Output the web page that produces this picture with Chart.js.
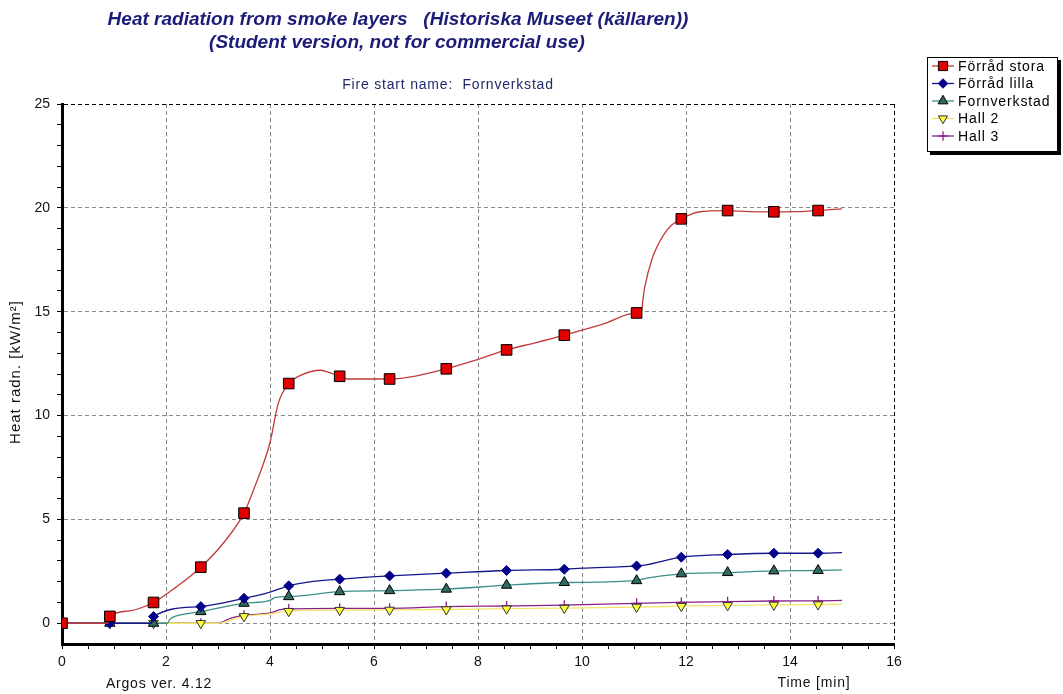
<!DOCTYPE html>
<html>
<head>
<meta charset="utf-8">
<script src="https://cdn.jsdelivr.net/npm/chart.js@4/dist/chart.umd.min.js"></script>
<style>
html,body{margin:0;padding:0;background:#fff;overflow:hidden}
#wrap{width:1063px;height:694px;position:relative}
</style>
</head>
<body>
<div id="wrap"><canvas id="c" width="1063" height="694"></canvas></div>
<script>
// ---------- data ----------
const seriesNames = ['Förråd stora', 'Förråd lilla', 'Fornverkstad', 'Hall 2', 'Hall 3'];

const xMajorTicks = [0, 2, 4, 6, 8, 10, 12, 14, 16];
const yMajorTicks = [0, 5, 10, 15, 20, 25];

// time of the plotted markers (min)
const markerTimes = [0, 0.92, 1.76, 2.67, 3.5, 4.36, 5.34, 6.3, 7.39, 8.55, 9.66, 11.05, 11.91, 12.8, 13.69, 14.54];

const storaMarkers = [0, 0.33, 1.0, 2.7, 5.3, 11.54, 11.89, 11.76, 12.25, 13.16, 13.87, 14.94, 19.47, 19.87, 19.81, 19.87];
const lillaMarkers = [0, 0, 0.32, 0.8, 1.2, 1.8, 2.12, 2.28, 2.41, 2.54, 2.6, 2.76, 3.18, 3.31, 3.37, 3.37];
const fornMarkers  = [0, 0, 0, 0.56, 0.96, 1.28, 1.52, 1.57, 1.64, 1.83, 1.96, 2.05, 2.38, 2.44, 2.52, 2.54];
const hall2Markers = [0, 0, 0, 0, 0.33, 0.58, 0.63, 0.64, 0.66, 0.7, 0.73, 0.78, 0.82, 0.86, 0.88, 0.9];
const hall3Markers = [0, 0, 0, 0, 0.38, 0.69, 0.72, 0.72, 0.8, 0.83, 0.87, 0.96, 1.0, 1.04, 1.07, 1.08];

// curve samples (time, value)
const storaCurveX = [0, 0.88, 0.92, 1.3, 1.76, 2.2, 2.67, 3.1, 3.5, 3.68, 4.0, 4.16, 4.36, 4.6, 4.97, 5.1, 5.34, 5.5, 6.3, 6.8, 7.39, 8.0, 8.55, 9.1, 9.66, 10.4, 11.05, 11.12, 11.2, 11.35, 11.57, 11.72, 11.91, 12.24, 12.8, 13.2, 13.69, 14.1, 14.54, 15.0];
const storaCurveY = [0, 0, 0.33, 0.6, 1.0, 1.75, 2.7, 3.85, 5.3, 6.4, 8.7, 10.6, 11.54, 11.95, 12.18, 12.1, 11.89, 11.76, 11.76, 11.9, 12.25, 12.7, 13.16, 13.5, 13.87, 14.4, 14.94, 14.75, 16.1, 17.56, 18.7, 19.16, 19.47, 19.8, 19.87, 19.82, 19.81, 19.82, 19.87, 19.95];

const lillaCurveX = [0, 1.72, 1.76, 2.65, 3.5, 4.0, 4.36, 4.8, 5.34, 6.3, 7.39, 8.55, 9.66, 10.0, 11.05, 11.2, 11.91, 12.8, 13.69, 14.54, 15.0];
const lillaCurveY = [0, 0, 0.32, 0.8, 1.2, 1.5, 1.8, 2.0, 2.12, 2.28, 2.41, 2.54, 2.6, 2.65, 2.76, 2.8, 3.18, 3.31, 3.37, 3.37, 3.4];

const fornCurveX = [0, 2.02, 2.08, 2.2, 2.67, 3.5, 4.0, 4.1, 4.36, 5.34, 6.3, 7.39, 8.55, 9.66, 11.05, 11.2, 11.91, 12.8, 13.69, 14.54, 15.0];
const fornCurveY = [0, 0, 0.2, 0.35, 0.56, 0.96, 1.1, 1.25, 1.28, 1.52, 1.57, 1.64, 1.83, 1.96, 2.05, 2.15, 2.38, 2.44, 2.52, 2.54, 2.57];

const hall2CurveX = [0, 3.0, 3.3, 3.5, 4.0, 4.36, 5.34, 6.3, 7.39, 8.55, 9.66, 11.05, 11.91, 12.8, 13.69, 14.54, 15.0];
const hall2CurveY = [0, 0, 0.2, 0.33, 0.45, 0.58, 0.63, 0.64, 0.66, 0.7, 0.73, 0.78, 0.82, 0.86, 0.88, 0.9, 0.92];

const hall3CurveX = [0, 3.0, 3.25, 3.5, 4.0, 4.2, 4.36, 5.34, 6.3, 7.39, 8.55, 9.66, 11.05, 11.91, 12.8, 13.69, 14.54, 15.0];
const hall3CurveY = [0, 0, 0.25, 0.38, 0.5, 0.65, 0.69, 0.72, 0.72, 0.8, 0.83, 0.87, 0.96, 1.0, 1.04, 1.07, 1.08, 1.1];

// ---------- styles ----------
const FONT = "Arial, 'Liberation Sans', sans-serif";
const styles = [
  {line: '#c23b3b', fill: '#e00000', border: '#000', shape: 'rect',     radius: 7.5, rot: 0},
  {line: '#16168a', fill: '#00008b', border: '#00008b', shape: 'rectRot', radius: 5, rot: 0},
  {line: '#3a9088', fill: '#2f6b60', border: '#000', shape: 'triangle', radius: 6, rot: 0},
  {line: '#f2e66a', fill: '#ffff40', border: '#333', shape: 'triangle', radius: 5.5, rot: 180},
  {line: '#8a208a', fill: '#8a208a', border: '#8a208a', shape: 'cross',    radius: 5, rot: 0}
];
const curvesX = [storaCurveX, lillaCurveX, fornCurveX, hall2CurveX, hall3CurveX];
const curvesY = [storaCurveY, lillaCurveY, fornCurveY, hall2CurveY, hall3CurveY];
const markersY = [storaMarkers, lillaMarkers, fornMarkers, hall2Markers, hall3Markers];

const pts = (xs, ys) => xs.map((x, i) => ({x: x, y: ys[i]}));

const datasets = [];
seriesNames.forEach((name, i) => {
  const s = styles[i];
  datasets.push({
    label: name + ' markers',
    data: pts(markerTimes, markersY[i]),
    showLine: false,
    pointStyle: s.shape,
    pointRotation: s.rot,
    pointRadius: s.radius,
    pointBackgroundColor: s.fill,
    pointBorderColor: s.border,
    pointBorderWidth: s.shape === 'cross' ? 1.3 : 1,
    order: i * 2
  });
  datasets.push({
    label: name,
    data: pts(curvesX[i], curvesY[i]),
    borderColor: s.line,
    borderWidth: 1.3,
    pointRadius: 0,
    cubicInterpolationMode: 'monotone',
    fill: false,
    order: i * 2 + 1
  });
});

const xTickValues = [];
for (let v = 0; v <= 16; v += 0.5) xTickValues.push(v);
const yTickValues = [];
for (let v = 0; v <= 25; v += 1) yTickValues.push(v);

function drawMarker(ctx, s, x, y) {
  ctx.save();
  ctx.fillStyle = s.fill;
  ctx.strokeStyle = s.border;
  ctx.lineWidth = 1;
  ctx.beginPath();
  if (s.shape === 'rect') {
    const h = s.radius * Math.SQRT1_2;
    ctx.rect(x - h, y - h, 2 * h, 2 * h);
    ctx.fill(); ctx.stroke();
  } else if (s.shape === 'rectRot') {
    const r = s.radius;
    ctx.moveTo(x, y - r); ctx.lineTo(x + r, y); ctx.lineTo(x, y + r); ctx.lineTo(x - r, y); ctx.closePath();
    ctx.fill(); ctx.stroke();
  } else if (s.shape === 'triangle') {
    const r = s.radius;
    const sign = s.rot === 180 ? -1 : 1;
    ctx.moveTo(x, y - sign * r);
    ctx.lineTo(x + r * 0.866, y + sign * r * 0.5);
    ctx.lineTo(x - r * 0.866, y + sign * r * 0.5);
    ctx.closePath();
    ctx.fill(); ctx.stroke();
  } else if (s.shape === 'cross') {
    const r = s.radius;
    ctx.lineWidth = 1.3;
    ctx.moveTo(x - r, y); ctx.lineTo(x + r, y);
    ctx.moveTo(x, y - r); ctx.lineTo(x, y + r);
    ctx.stroke();
  }
  ctx.restore();
}

const decorPlugin = {
  id: 'decor',
  afterDraw(chart) {
    const ctx = chart.ctx;
    ctx.save();
    // titles
    ctx.fillStyle = '#1c1c78';
    ctx.textAlign = 'center';
    ctx.textBaseline = 'middle';
    ctx.font = 'italic bold 19px ' + FONT;
    ctx.fillText('Heat radiation from smoke layers   (Historiska Museet (källaren))', 398, 20);
    ctx.fillText('(Student version, not for commercial use)', 397, 43);
    ctx.font = '14px ' + FONT;
    ctx.letterSpacing = '0.8px';
    ctx.fillStyle = '#202a6a';
    ctx.fillText('Fire start name:  Fornverkstad', 448, 85);
    // bottom texts
    ctx.fillStyle = '#111';
    ctx.fillText('Argos ver. 4.12', 159, 684);
    ctx.fillText('Time [min]', 814, 683);
    // y axis title
    ctx.save();
    ctx.translate(16, 372);
    ctx.rotate(-Math.PI / 2);
    ctx.font = '15px ' + FONT;
    ctx.letterSpacing = '1px';
    ctx.fillText('Heat radn. [kW/m²]', 0, 0);
    ctx.restore();

    // legend
    const bx = 927, by = 57, bw = 131, bh = 95;
    ctx.fillStyle = '#000';
    ctx.fillRect(bx + 3, by + 3, bw, bh);
    ctx.fillStyle = '#fff';
    ctx.fillRect(bx, by, bw, bh);
    ctx.strokeStyle = '#000';
    ctx.lineWidth = 1;
    ctx.strokeRect(bx + 0.5, by + 0.5, bw - 1, bh - 1);
    ctx.textAlign = 'left';
    ctx.font = '14px ' + FONT;
    ctx.letterSpacing = '0.9px';
    seriesNames.forEach((name, i) => {
      const y = 66 + i * 17.5;
      const s = styles[i];
      ctx.strokeStyle = s.line;
      ctx.lineWidth = 1.3;
      ctx.beginPath();
      ctx.moveTo(932, y); ctx.lineTo(954, y);
      ctx.stroke();
      const ls = Object.assign({}, s, {radius: s.shape === 'rect' ? 6.5 : s.radius * 0.95});
      drawMarker(ctx, ls, 943, y);
      ctx.fillStyle = '#000';
      ctx.fillText(name, 958, y + 1);
    });
    ctx.restore();
  }
};

Chart.defaults.font.family = FONT;
Chart.defaults.color = '#111';

new Chart(document.getElementById('c'), {
  type: 'line',
  data: {datasets: datasets},
  options: {
    responsive: false,
    animation: false,
    devicePixelRatio: 1,
    layout: {padding: {left: 0, top: 104, right: 169, bottom: 0}},
    plugins: {legend: {display: false}, tooltip: {enabled: false}, title: {display: false}},
    scales: {
      x: {
        type: 'linear', min: 0, max: 16,
        afterBuildTicks: (sc) => { sc.ticks = xTickValues.map(v => ({value: v})); },
        afterFit: (sc) => { sc.height = 50; },
        ticks: {
          autoSkip: false, maxRotation: 0, padding: 5,
          font: {size: 14}, color: '#111',
          callback: (v) => xMajorTicks.includes(v) ? String(v) : ''
        },
        grid: {
          color: (c) => {
            const v = c.tick ? c.tick.value : null;
            if (!xMajorTicks.includes(v)) return 'rgba(0,0,0,0)';
            return v === 16 ? '#000' : '#8a8a8a';
          },
          tickColor: '#000', tickLength: 5, lineWidth: 1
        },
        border: {display: true, color: '#000', width: 3, dash: [4, 3]}
      },
      y: {
        type: 'linear', min: -1, max: 25,
        afterBuildTicks: (sc) => { sc.ticks = yTickValues.map(v => ({value: v})); },
        afterFit: (sc) => { sc.width = 62; },
        ticks: {
          autoSkip: false, padding: 7,
          font: {size: 14}, color: '#111',
          callback: (v) => yMajorTicks.includes(v) ? String(v) : ''
        },
        grid: {
          color: (c) => {
            const v = c.tick ? c.tick.value : null;
            if (!yMajorTicks.includes(v)) return 'rgba(0,0,0,0)';
            return v === 25 ? '#000' : '#8a8a8a';
          },
          tickColor: '#000', tickLength: 5, lineWidth: 1
        },
        border: {display: true, color: '#000', width: 3, dash: [4, 3]}
      }
    }
  },
  plugins: [decorPlugin]
});
</script>
</body>
</html>
